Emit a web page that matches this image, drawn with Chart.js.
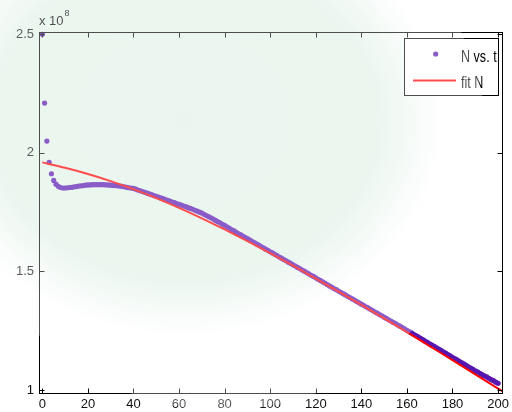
<!DOCTYPE html>
<html><head><meta charset="utf-8">
<script src="https://cdn.jsdelivr.net/npm/chart.js@4.4.1/dist/chart.umd.min.js"></script>
<style>html,body{margin:0;padding:0;background:#fff;}#wrap{width:512px;height:412px;position:relative;}</style>
</head><body><div id="wrap"><canvas id="c" width="512" height="412"></canvas></div>
<script>
// time samples (x)
const timeT = [0,1,2,3,4,5,6,7,8,9,10,11,12,13,14,15,16,17,18,19,20,21,22,23,24,25,26,27,28,29,30,31,32,33,34,35,36,37,38,39,40,41,42,43,44,45,46,47,48,49,50,51,52,53,54,55,56,57,58,59,60,61,62,63,64,65,66,67,68,69,70,71,72,73,74,75,76,77,78,79,80,81,82,83,84,85,86,87,88,89,90,91,92,93,94,95,96,97,98,99,100,101,102,103,104,105,106,107,108,109,110,111,112,113,114,115,116,117,118,119,120,121,122,123,124,125,126,127,128,129,130,131,132,133,134,135,136,137,138,139,140,141,142,143,144,145,146,147,148,149,150,151,152,153,154,155,156,157,158,159,160,161,162,163,164,165,166,167,168,169,170,171,172,173,174,175,176,177,178,179,180,181,182,183,184,185,186,187,188,189,190,191,192,193,194,195,196,197,198,199,200];
// measured N (units of 1e8)
const measuredN = [2.50,2.21,2.05,1.96,1.912,1.884,1.868,1.859,1.854,1.852,
1.852,1.853,1.854,1.855,1.857,1.858,1.860,1.861,1.862,1.864,
1.865,1.865,1.866,1.866,1.866,1.866,1.866,1.866,1.865,1.865,
1.864,1.863,1.862,1.861,1.860,1.859,1.857,1.855,1.853,1.852,
1.850,1.847,1.843,1.840,1.837,1.834,1.830,1.827,1.824,1.820,
1.817,1.814,1.810,1.807,1.803,1.800,1.797,1.793,1.790,1.786,
1.783,1.780,1.776,1.773,1.769,1.766,1.762,1.758,1.754,1.750,
1.746,1.741,1.736,1.731,1.726,1.721,1.715,1.710,1.705,1.699,
1.694,1.688,1.683,1.677,1.672,1.666,1.660,1.655,1.649,1.644,
1.638,1.633,1.627,1.622,1.616,1.611,1.605,1.600,1.594,1.589,
1.583,1.578,1.572,1.567,1.561,1.556,1.550,1.545,1.539,1.534,
1.528,1.523,1.517,1.512,1.506,1.501,1.495,1.490,1.484,1.479,
1.473,1.467,1.462,1.456,1.451,1.445,1.439,1.434,1.428,1.423,
1.417,1.412,1.406,1.401,1.395,1.390,1.384,1.379,1.373,1.368,
1.362,1.357,1.351,1.346,1.340,1.335,1.329,1.324,1.318,1.313,
1.307,1.302,1.296,1.291,1.285,1.280,1.274,1.269,1.263,1.258,
1.252,1.246,1.241,1.235,1.229,1.224,1.218,1.212,1.206,1.201,
1.195,1.189,1.184,1.178,1.172,1.167,1.161,1.155,1.149,1.144,
1.138,1.132,1.127,1.121,1.115,1.110,1.104,1.098,1.092,1.087,
1.081,1.076,1.070,1.065,1.060,1.055,1.049,1.044,1.039,1.033,
1.028];
// fitted curve
const fitT = [0,10,20,30,40,50,60,70,80,90,100,110,120,130,140,150,160,170,180,190,200,202];
const fitN = [1.960,1.937,1.911,1.881,1.847,1.809,1.768,1.724,1.677,1.628,1.577,1.524,1.470,1.415,1.359,1.302,1.244,1.185,1.126,1.066,1.006,0.994];
const xTicks = [0,20,40,60,80,100,120,140,160,180,200];
const yTicks = [1,1.5,2,2.5];
const seriesLabels = ['N vs. t','fit N'];
const exponentText = ['x 10','8'];

const PURPLE = 'rgb(88,22,176)';
const RED = 'rgb(255,0,0)';
const FONT = 'Arial, "Liberation Sans", Helvetica, sans-serif';

const decor = {
  id: 'decor',
  beforeDraw(chart) {
    const ctx = chart.ctx;
    ctx.save();
    ctx.fillStyle = '#ffffff';
    ctx.fillRect(0, 0, chart.width, chart.height);
    ctx.translate(185, 120);
    ctx.scale(1.2, 1);
    const g = ctx.createRadialGradient(0, 0, 0, 0, 0, 215);
    g.addColorStop(0, 'rgba(224,241,231,1)');
    g.addColorStop(0.75, 'rgba(224,241,231,0.9)');
    g.addColorStop(1, 'rgba(224,241,231,0)');
    ctx.fillStyle = g;
    ctx.beginPath();
    ctx.arc(0, 0, 215, 0, Math.PI * 2);
    ctx.fill();
    ctx.restore();
  },
  afterDraw(chart) {
    const ctx = chart.ctx;
    const a = chart.chartArea;
    const xs = chart.scales.x, ys = chart.scales.y;
    ctx.save();
    // box
    ctx.strokeStyle = '#000';
    ctx.lineWidth = 1;
    const L = Math.round(a.left) + 0.5, R = Math.round(a.right) - 0.5;
    const T = Math.round(a.top) + 0.5, B = Math.round(a.bottom) - 0.5;
    ctx.strokeRect(L, T, R - L, B - T);
    // inward ticks
    ctx.beginPath();
    xs.ticks.forEach(t => {
      const px = Math.round(xs.getPixelForValue(t.value)) + 0.5;
      ctx.moveTo(px, B); ctx.lineTo(px, B - 5);
      ctx.moveTo(px, T); ctx.lineTo(px, T + 5);
    });
    ys.ticks.forEach(t => {
      const py = Math.round(ys.getPixelForValue(t.value)) + 0.5;
      ctx.moveTo(L, py); ctx.lineTo(L + 5, py);
      ctx.moveTo(R, py); ctx.lineTo(R - 5, py);
    });
    ctx.stroke();
    // exponent label
    ctx.fillStyle = '#000';
    ctx.textBaseline = 'alphabetic';
    ctx.textAlign = 'left';
    ctx.font = '13px ' + FONT;
    ctx.fillText(exponentText[0], 39, 25);
    const w = ctx.measureText(exponentText[0]).width;
    ctx.font = '9px ' + FONT;
    ctx.fillText(exponentText[1], 39 + w + 1, 16);
    // legend
    const lx = 404.5, ly = 38.5, lw = 94, lh = 57;
    ctx.fillStyle = '#fff';
    ctx.fillRect(lx, ly, lw, lh);
    ctx.strokeStyle = '#000';
    ctx.strokeRect(lx, ly, lw, lh);
    ctx.fillStyle = PURPLE;
    ctx.beginPath();
    ctx.arc(435.7, 54, 2.6, 0, Math.PI * 2);
    ctx.fill();
    ctx.strokeStyle = RED;
    ctx.lineWidth = 2;
    ctx.beginPath();
    ctx.moveTo(413, 80.5); ctx.lineTo(456, 80.5);
    ctx.stroke();
    ctx.fillStyle = '#000';
    [[seriesLabels[0], 61.5], [seriesLabels[1], 88]].forEach(([txt, by]) => {
      ctx.save();
      ctx.translate(461, by);
      ctx.scale(0.74, 1);
      ctx.font = '17px ' + FONT;
      ctx.fillText(txt, 0, 0);
      ctx.restore();
    });
    // watermark veil
    ctx.fillStyle = 'rgba(255,255,255,0.3)';
    ctx.beginPath();
    ctx.arc(223, 146, 264, 0, Math.PI * 2);
    ctx.fill();
    ctx.restore();
  }
};

const scatterData = timeT.map((t, i) => ({x: t, y: measuredN[i]}));
const fitData = fitT.map((t, i) => ({x: t, y: fitN[i]}));

new Chart(document.getElementById('c'), {
  type: 'scatter',
  data: {
    datasets: [
      {label: seriesLabels[0], data: scatterData, pointRadius: 2.6, pointHoverRadius: 2.6,
       pointBackgroundColor: PURPLE, pointBorderWidth: 0, showLine: false, order: 1, clip: false},
      {type: 'line', label: seriesLabels[1], data: fitData, borderColor: RED, borderWidth: 2,
       pointRadius: 0, showLine: true, fill: false, cubicInterpolationMode: 'monotone', order: 0}
    ]
  },
  options: {
    responsive: false,
    devicePixelRatio: 1,
    animation: false,
    layout: {padding: {top: 32, right: 8, left: 0, bottom: 0}},
    plugins: {legend: {display: false}, tooltip: {enabled: false}},
    scales: {
      x: {
        type: 'linear', min: -1.45, max: 202,
        afterBuildTicks: s => { s.ticks = xTicks.map(v => ({value: v})); },
        afterFit: s => { s.height = 18; },
        ticks: {font: {family: FONT, size: 13}, color: '#111', padding: 3, maxRotation: 0, autoSkip: false,
                callback: v => String(v)},
        grid: {display: false, drawTicks: false},
        border: {display: false}
      },
      y: {
        type: 'linear', min: 0.983, max: 2.51,
        afterBuildTicks: s => { s.ticks = yTicks.map(v => ({value: v})); },
        afterFit: s => { s.width = 39; },
        ticks: {font: {family: FONT, size: 13}, color: '#111', padding: 5, autoSkip: false,
                callback: v => String(v)},
        grid: {display: false, drawTicks: false},
        border: {display: false}
      }
    }
  },
  plugins: [decor]
});
</script>
</body></html>
